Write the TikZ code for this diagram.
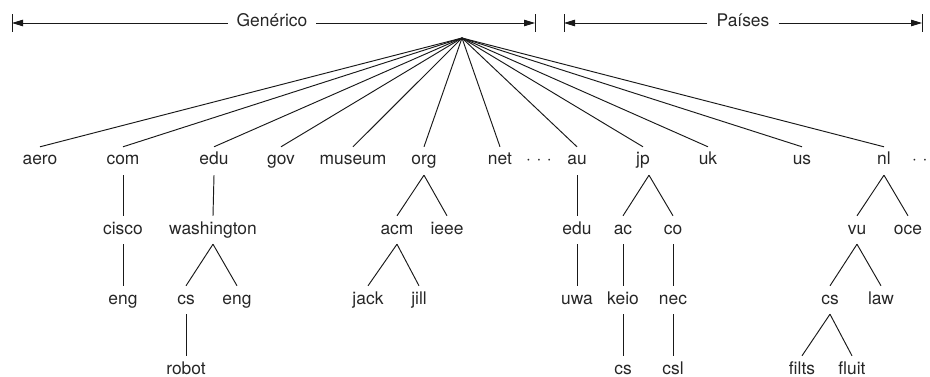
\documentclass[tikz,border=0pt]{standalone}
\usepackage{fontspec}
\setmainfont{TeX Gyre Heros}
\usetikzlibrary{arrows.meta}
\begin{document}
\begin{tikzpicture}[x=1pt,y=-1pt,
  lbl/.style={anchor=base,font=\fontsize{17.4}{20}\selectfont,text=black!85,
    text height=12pt,text depth=4pt,inner xsep=1pt,inner ysep=6pt},
  edge/.style={draw=black!90,line width=0.95pt},
  dim/.style={draw=black!90,line width=0.9pt,-{Triangle[length=11pt,width=6.5pt]}},
  bar/.style={draw=black!90,line width=1pt}]
\useasboundingbox (0,0) rectangle (930,377);
\clip (0,0) rectangle (930,377);
% header
\node[lbl,anchor=center] (gen) at (272,23) {Genérico};
\node[lbl,anchor=center] (pai) at (743,23) {Países};
\coordinate (gl) at (12,23);
\coordinate (gr) at (535,23);
\coordinate (pl) at (564,23);
\coordinate (pr) at (922,23);
\draw[dim] ([xshift=-8pt]gen.west) -- (gl);
\draw[dim] ([xshift=8pt]gen.east) -- (gr);
\draw[dim] ([xshift=-8pt]pai.west) -- (pl);
\draw[dim] ([xshift=8pt]pai.east) -- (pr);
\draw[bar] ([yshift=-9pt]gl) -- ([yshift=9pt]gl);
\draw[bar] ([yshift=-9pt]gr) -- ([yshift=9pt]gr);
\draw[bar] ([yshift=-9pt]pl) -- ([yshift=9pt]pl);
\draw[bar] ([yshift=-9pt]pr) -- ([yshift=9pt]pr);
% root
\coordinate (root) at (462,38);
% row 1
\node[lbl] (aero) at (40,165) {aero};
\node[lbl] (com) at (123,165) {com};
\node[lbl] (edu) at (214,165) {edu};
\node[lbl] (gov) at (281,165) {gov};
\node[lbl] (museum) at (353,165) {museum};
\node[lbl] (org) at (424,165) {org};
\node[lbl] (net) at (500,165) {net};
\node[lbl] (dots1) at (539,165) {·\hspace{5.5pt}·\hspace{5.5pt}·};
\node[lbl] (au) at (577,165) {au};
\node[lbl] (jp) at (643,165) {jp};
\node[lbl] (uk) at (708,165) {uk};
\node[lbl] (us) at (802,165) {us};
\node[lbl] (nl) at (884,165) {nl};
\node[lbl,anchor=base west] (dots2) at (911,165) {·\hspace{5.5pt}·\hspace{5.5pt}·};
\foreach \n in {aero,com,edu,gov,museum,org,net,au,jp,uk,us,nl}
  \draw[edge] (root) -- (\n.north);
% row 2
\node[lbl] (cisco) at (123,234) {cisco};
\node[lbl] (wash) at (213,234) {washington};
\node[lbl] (acm) at (397,234) {acm};
\node[lbl] (ieee) at (447,234) {ieee};
\node[lbl] (auedu) at (577,234) {edu};
\node[lbl] (ac) at (623,234) {ac};
\node[lbl] (co) at (673,234) {co};
\node[lbl] (vu) at (857,234) {vu};
\node[lbl] (oce) at (908,234) {oce};
% row 3
\node[lbl] (ceng) at (123,304) {eng};
\node[lbl] (wcs) at (186,304) {cs};
\node[lbl] (weng) at (237,304) {eng};
\node[lbl] (jack) at (368,304) {jack};
\node[lbl] (jill) at (419,304) {jill};
\node[lbl] (uwa) at (577,304) {uwa};
\node[lbl] (keio) at (623,304) {keio};
\node[lbl] (nec) at (673,304) {nec};
\node[lbl] (vcs) at (830,304) {cs};
\node[lbl] (law) at (881,304) {law};
% row 4
\node[lbl] (robot) at (186,374) {robot};
\node[lbl] (kcs) at (623,374) {cs};
\node[lbl] (csl) at (673,374) {csl};
\node[lbl] (filts) at (802,374) {filts};
\node[lbl] (fluit) at (852,374) {fluit};
% edges
\draw[edge] (com.south) -- (cisco.north);
\draw[edge] (cisco.south) -- (ceng.north);
\draw[edge] (edu.south) -- (wash.north);
\draw[edge] (wash.south) -- (wcs.north);
\draw[edge] (wash.south) -- (weng.north);
\draw[edge] (wcs.south) -- (robot.north);
\draw[edge] (org.south) -- (acm.north);
\draw[edge] (org.south) -- (ieee.north);
\draw[edge] (acm.south) -- (jack.north);
\draw[edge] (acm.south) -- (jill.north);
\draw[edge] (au.south) -- (auedu.north);
\draw[edge] (auedu.south) -- (uwa.north);
\draw[edge] ([xshift=6pt]jp.south) -- (ac.north);
\draw[edge] ([xshift=6pt]jp.south) -- (co.north);
\draw[edge] (ac.south) -- (keio.north);
\draw[edge] (keio.south) -- (kcs.north);
\draw[edge] (co.south) -- (nec.north);
\draw[edge] (nec.south) -- (csl.north);
\draw[edge] (nl.south) -- (vu.north);
\draw[edge] (nl.south) -- (oce.north);
\draw[edge] (vu.south) -- (vcs.north);
\draw[edge] (vu.south) -- (law.north);
\draw[edge] (vcs.south) -- (filts.north);
\draw[edge] (vcs.south) -- (fluit.north);
\end{tikzpicture}
\end{document}
